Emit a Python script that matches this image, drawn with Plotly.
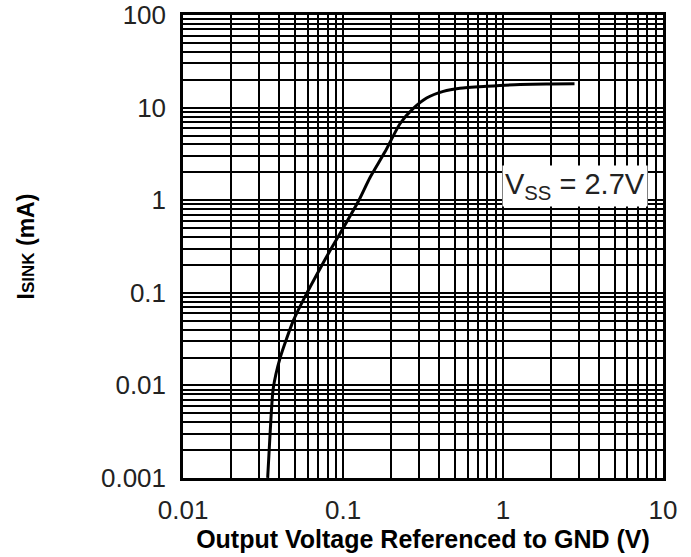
import plotly.graph_objects as go

# Data
vout = [0.0338, 0.0350, 0.0366, 0.0404, 0.0489, 0.0593, 0.0718, 0.083, 0.093,
        0.125, 0.147, 0.183, 0.227, 0.275, 0.333, 0.424, 0.538, 0.791,
        1.28, 2.0, 2.8]
isink = [0.001, 0.003, 0.0092, 0.0197, 0.05, 0.0985, 0.182, 0.286, 0.40,
         0.98, 1.74, 3.33, 6.7, 9.8, 12.7, 15.0, 16.2, 17.0,
         17.8, 18.0, 18.1]

x_ticks = [0.01, 0.1, 1, 10]
x_labels = ["0.01", "0.1", "1", "10"]
y_ticks = [0.001, 0.01, 0.1, 1, 10, 100]
y_labels = ["0.001", "0.01", "0.1", "1", "10", "100"]
digits = [2, 3, 4, 5, 6, 7, 8, 9]

x_minor = [d * m for d in x_ticks[:-1] for m in digits]
y_minor = [d * m for d in y_ticks[:-1] for m in digits]

fig = go.Figure()
fig.add_trace(go.Scatter(x=vout, y=isink, mode="lines",
                         line=dict(color="black", width=3, shape="spline", smoothing=0.6),
                         showlegend=False))

tickfont = dict(family="Liberation Sans, Arial, sans-serif", size=26, color="#222")

fig.update_xaxes(
    type="log", range=[-2.0003, 1.0003], automargin=False,
    tickmode="array", tickvals=x_ticks, ticktext=x_labels,
    ticks="outside", ticklen=7, tickcolor="rgba(0,0,0,0)",
    tickfont=tickfont, ticklabeloverflow="allow",
    showgrid=True, gridcolor="black", gridwidth=2,
    minor=dict(tickvals=x_minor, showgrid=True, gridcolor="black", gridwidth=2, ticks=""),
    showline=True, linecolor="black", linewidth=2.5, mirror=True,
    zeroline=False,
    title=dict(text="<b>Output Voltage Referenced to GND (V)</b>",
               font=dict(family="Liberation Sans, Arial, sans-serif", size=25, color="black"),
               standoff=7),
)
fig.update_yaxes(
    type="log", range=[-3.0005, 2.0005], automargin=False,
    tickmode="array", tickvals=y_ticks, ticktext=y_labels,
    ticks="outside", ticklen=9, tickcolor="rgba(0,0,0,0)",
    tickfont=tickfont, ticklabeloverflow="allow",
    showgrid=True, gridcolor="black", gridwidth=2,
    minor=dict(tickvals=y_minor, showgrid=True, gridcolor="black", gridwidth=2, ticks=""),
    showline=True, linecolor="black", linewidth=2.5, mirror=True,
    zeroline=False,
    title=dict(text="<b>I<span style='font-size:17px'>SINK</span> (mA)</b>",
               font=dict(family="Liberation Sans, Arial, sans-serif", size=23, color="black"),
               standoff=60),
)

fig.add_annotation(
    xref="paper", yref="paper", x=0.969, y=0.631,
    xanchor="right", yanchor="middle",
    text="V<sub>SS</sub> = 2.7V", showarrow=False,
    font=dict(family="Liberation Sans, Arial, sans-serif", size=29, color="#222"),
    bgcolor="white", borderpad=2,
)

fig.update_layout(
    width=691, height=557,
    margin=dict(l=183, r=28, t=15, b=79),
    paper_bgcolor="white", plot_bgcolor="white",
)

fig.write_html("out.html")
